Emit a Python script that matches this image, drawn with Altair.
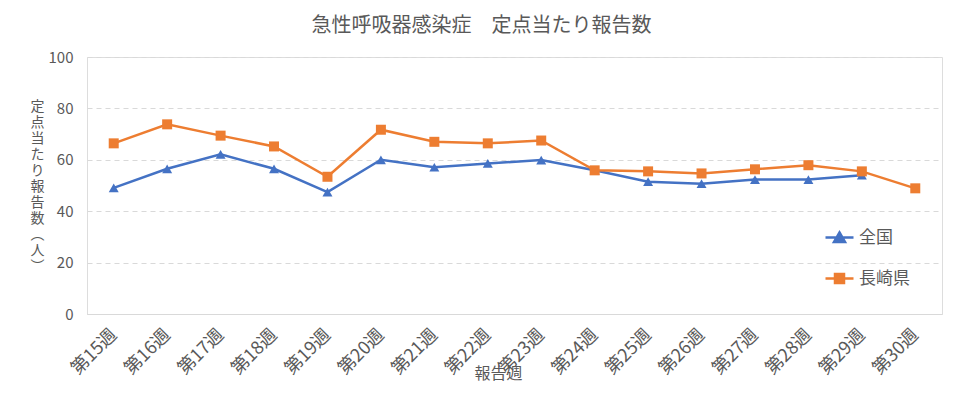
import altair as alt
import pandas as pd

weeks = ["第15週", "第16週", "第17週", "第18週", "第19週", "第20週", "第21週", "第22週",
         "第23週", "第24週", "第25週", "第26週", "第27週", "第28週", "第29週", "第30週"]
national = [49.1, 56.5, 62.1, 56.5, 47.4, 60.0, 57.1, 58.6,
            59.9, 55.9, 51.5, 50.7, 52.3, 52.3, 54.0, None]
nagasaki = [66.4, 73.8, 69.4, 65.2, 53.4, 71.7, 67.0, 66.4,
            67.5, 55.9, 55.5, 54.7, 56.3, 57.9, 55.5, 48.9]
series_names = ["全国", "長崎県"]
series_colors = ["#4472C4", "#ED7D31"]
y_ticks = [0, 20, 40, 60, 80, 100]

rows = []
for name, vals in zip(series_names, [national, nagasaki]):
    for w, v in zip(weeks, vals):
        if v is not None:
            rows.append({"週": w, "系列": name, "値": v})
df = pd.DataFrame(rows)

FONT = "Noto Sans CJK JP"
TXT = "#595959"

y_title = list("定点当たり報告数") + ["︵", "人", "︶"]

# legend symbols: short line with the series marker in the middle
tri_path = "M-2.8,0H2.8M0,-1L1.1,0.9L-1.1,0.9Z"
sq_path = "M-2.8,0H2.8M-0.9,-0.9H0.9V0.9H-0.9Z"

x_enc = alt.X("週:N", sort=weeks, scale=alt.Scale(padding=0.5),
              axis=alt.Axis(title="報告週", labelAngle=-45, labelAlign="right",
                            labelBaseline="middle", labelFontSize=18, labelFont=FONT,
                            labelColor=TXT, labelPadding=18, ticks=False,
                            domainColor="#D9D9D9", titleFont=FONT, titleFontSize=16,
                            titleFontWeight="normal", titleColor=TXT,
                            titleX=411, titleY=59, titleBaseline="middle",
                            titleAlign="center"))
y_enc = alt.Y("値:Q", scale=alt.Scale(domain=[0, 100]),
              axis=alt.Axis(values=y_ticks, title=y_title, titleAngle=0,
                            titleAlign="center", titleBaseline="middle",
                            titleX=-50, titleY=49, titleLineHeight=16,
                            titleFont=FONT, titleFontSize=14, titleFontWeight="normal",
                            titleColor=TXT, labelFontSize=15, labelFont=FONT,
                            labelColor=TXT, labelPadding=14, ticks=False, domain=False,
                            gridColor="#D9D9D9", gridDash=[5, 4]))

base = alt.Chart(df)

lines = base.mark_line(
    strokeWidth=2.5,
    point=alt.OverlayMarkDef(filled=True, size=100, opacity=1),
).encode(
    x=x_enc, y=y_enc,
    color=alt.Color("系列:N", scale=alt.Scale(domain=series_names, range=series_colors),
                    legend=None),
    shape=alt.Shape("系列:N", scale=alt.Scale(domain=series_names,
                                              range=["triangle-up", "square"]),
                    legend=None),
)

legend = alt.Legend(
    title=None, orient="none", legendX=744, legendY=172,
    symbolSize=100, symbolOpacity=1, symbolStrokeWidth=2.5,
    labelFontSize=17, labelFont=FONT, labelColor=TXT,
    labelOffset=11, rowPadding=22, padding=0,
)

legend_layer = base.mark_point(filled=True, opacity=0, size=100).encode(
    x=x_enc, y=y_enc,
    color=alt.Color("系列:N", scale=alt.Scale(domain=series_names, range=series_colors),
                    legend=legend),
    stroke=alt.Stroke("系列:N", scale=alt.Scale(domain=series_names, range=series_colors),
                      legend=legend),
    shape=alt.Shape("系列:N", scale=alt.Scale(domain=series_names,
                                              range=[tri_path, sq_path]),
                    legend=legend),
)

chart = alt.layer(lines, legend_layer).resolve_scale(
    shape="independent", color="independent", stroke="independent"
).properties(
    width=855, height=257,
    padding={"left": 22, "right": 5, "top": 8, "bottom": 5},
    title=alt.TitleParams("急性呼吸器感染症　定点当たり報告数", font=FONT, fontSize=20,
                          fontWeight="normal", color=TXT, anchor="middle", dx=-33,
                          offset=14),
).configure_view(stroke=None).configure(background="white")

chart.save("out.html", embed_options={"renderer": "svg", "actions": False})
